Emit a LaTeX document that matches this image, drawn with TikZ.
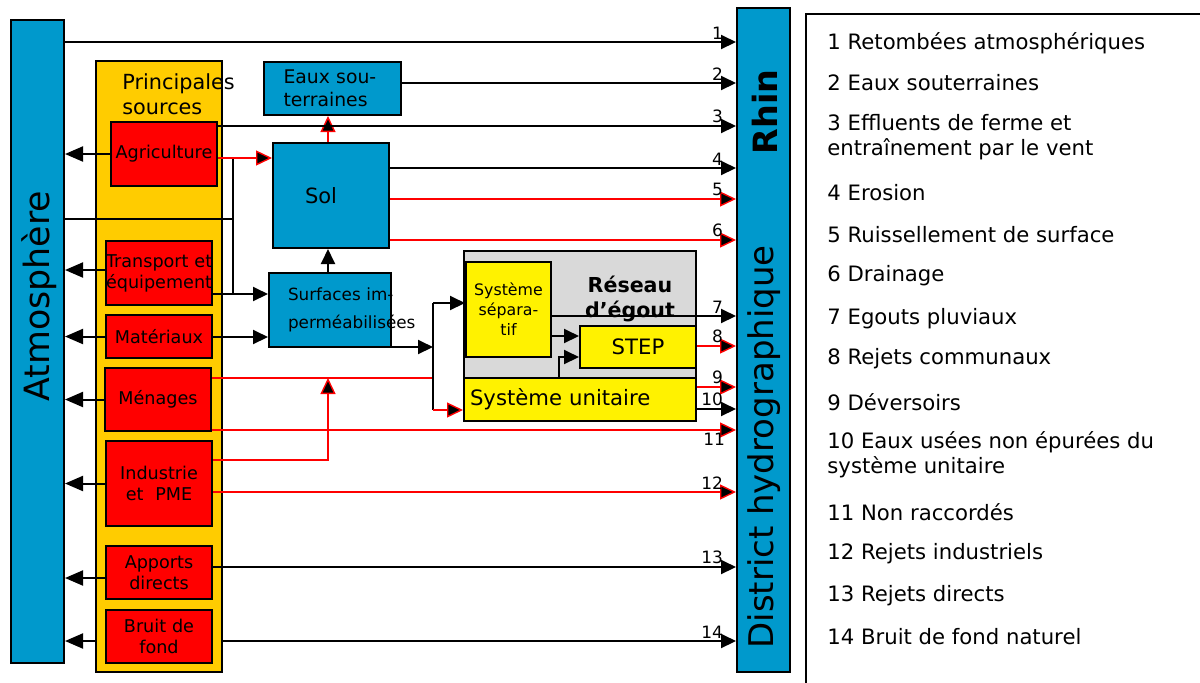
\documentclass[tikz,border=0pt]{standalone}
\usepackage{fontspec}
\setmainfont{DejaVu Sans}
\usetikzlibrary{arrows.meta}

\definecolor{rhinblue}{RGB}{0,153,204}
\definecolor{srcyellow}{RGB}{255,204,0}
\definecolor{egoutgray}{RGB}{217,217,217}

\begin{document}
\begin{tikzpicture}[
x=0.5pt, y=-0.5pt,
box/.style={draw, line width=1pt, inner sep=0pt, align=center},
bluebox/.style={box, fill=rhinblue},
redbox/.style={box, fill=red, minimum width=53pt, text width=53pt,
  font=\fontsize{8.8}{10.5}\selectfont},
yelbox/.style={box, fill=yellow},
flow/.style={line width=1pt, -{Triangle[length=7.5pt,width=7pt]}},
backflow/.style={line width=1pt, -{Triangle[length=9pt,width=7.5pt]}},
redflow/.style={flow, draw=red, -{Triangle[length=8pt,width=7.5pt,fill=black,line width=0.7pt]}},
wire/.style={line width=1pt},
redwire/.style={wire, draw=red},
num/.style={font=\fontsize{8.5}{8.5}\selectfont, inner sep=1pt},
legtxt/.style={anchor=west, align=left, inner sep=0pt,
  font=\fontsize{10.6}{12.5}\selectfont}
]

\useasboundingbox (0,0) rectangle (1200,682);
\clip (0,0) rectangle (1200,682);

% Atmosphere
\node[bluebox, minimum width=26.5pt, minimum height=321.5pt] (atmo) at (37.5,341.5) {};
\node[rotate=90, font=\fontsize{17.4}{17.4}\selectfont] (atmotxt) at (39,296) {Atmosphère};

% main sources
\node[box, fill=srcyellow, minimum width=63pt, minimum height=305.5pt] (srcs) at (159,366.5) {};
\node[anchor=west, align=left, inner sep=0pt, font=\fontsize{10.4}{12.5}\selectfont]
  (srcstxt) at (122,94) {Principales\\sources};

\node[redbox, minimum height=32pt] (agri) at (164,154) {Agriculture};
\node[redbox, minimum height=32pt] (trans) at (159,273) {\mbox{Transport et}\\\mbox{équipement}};
\node[redbox, minimum height=21.5pt] (mat) at (159,336.5) {Matériaux};
\node[redbox, minimum height=31.5pt] (men) at (158,399.5) {Ménages};
\node[redbox, minimum height=42.5pt] (indus) at (159,483.5) {Industrie\\et~~PME};
\node[redbox, minimum height=26.5pt] (appo) at (159,572.5) {Apports\\directs};
\node[redbox, minimum height=26.5pt] (bruit) at (159,636) {\mbox{Bruit de}\\fond};

% soil and groundwater
\node[bluebox, minimum width=68.5pt, minimum height=26.5pt, text width=49pt,
  inner xsep=9.75pt, align=left, font=\fontsize{9.4}{11.5}\selectfont]
  (eaux) at (332.5,88.5) {\mbox{Eaux sou-}\\terraines};
\node[bluebox, minimum width=58pt, minimum height=52.5pt, text width=26pt,
  inner xsep=16pt, align=left, font=\fontsize{10.5}{10.5}\selectfont] (sol) at (331,195.5) {Sol};
\node[bluebox, minimum width=61pt, minimum height=37pt, text width=42pt,
  inner xsep=9.5pt, align=left, font=\fontsize{8.4}{14}\selectfont]
  (surf) at (330,310) {\mbox{Surfaces im-}\\\mbox{perméabilisées}};

% sewer network
\node[box, fill=egoutgray, minimum width=116pt, minimum height=85pt] (egout) at (580,336) {};
\node[font=\bfseries\fontsize{10.3}{12.5}\selectfont, align=center, inner sep=0pt]
  (egouttxt) at (630,299) {Réseau\\d’égout};
\node[yelbox, minimum width=42.5pt, minimum height=47.5pt, text width=42.5pt,
  font=\fontsize{7.9}{10}\selectfont] (sep) at (508.5,309.5) {Système\\sépara-\\tif};
\node[yelbox, minimum width=58pt, minimum height=21pt,
  font=\fontsize{10.6}{10.6}\selectfont] (step) at (638,347) {STEP};
\node[yelbox, minimum width=116pt, minimum height=21.5pt, text width=110pt,
  inner xsep=3pt, align=left, font=\fontsize{10.6}{10.6}\selectfont]
  (unit) at (580,399.5) {Système unitaire};

% river
\node[bluebox, minimum width=26.5pt, minimum height=332pt] (fluss) at (763.5,340) {};
\node[rotate=90, font=\bfseries\fontsize{16.7}{16.7}\selectfont] (rhintxt) at (765,112) {Rhin};
\node[rotate=90, font=\fontsize{17}{17}\selectfont] (disttxt) at (764,447) {District hydrographique};

% legend
\node[draw, line width=1pt, minimum width=210pt, minimum height=350pt, anchor=north west]
  (legend) at (805,13) {};
\foreach \yy/\txt [count=\i] in {43/{1 Retombées atmosphériques},
  83/{2 Eaux souterraines},
  137.5/{3 Effluents de ferme et\\entraînement par le vent},
  193/{4 Erosion}, 235/{5 Ruissellement de surface}, 276/{6 Drainage},
  319/{7 Egouts pluviaux}, 359/{8 Rejets communaux}, 402/{9 Déversoirs},
  454.5/{10 Eaux usées non épurées du\\système unitaire},
  512/{11 Non raccordés}, 554/{12 Rejets industriels},
  596/{13 Rejets directs}, 637/{14 Bruit de fond naturel}}
  \node[legtxt] (leg\i) at (827,\yy) {\txt};

\coordinate (knota) at (233,158);
\coordinate (knotb) at (233,294);
\coordinate (menline) at (328,378);
\coordinate (jn) at (433,347);

% emissions to the atmosphere
\draw[backflow] (agri.west) -- (atmo.east |- agri.west);
\draw[backflow] (trans.west |- 0,270) -- (atmo.east |- 0,270);
\draw[backflow] (mat.west) -- (atmo.east |- mat.west);
\draw[backflow] (men.west) -- (atmo.east |- men.west);
\draw[backflow] (indus.west) -- (atmo.east |- indus.west);
\draw[backflow] (appo.west |- 0,578) -- (atmo.east |- 0,578);
\draw[backflow] (srcs.west |- 0,641) -- (atmo.east |- 0,641);

% internal paths
\draw[wire] (atmo.east |- 0,219) -- (knota |- 0,219);
\draw[wire] (knota) -- (knotb);
\draw[redflow] (agri.east |- knota) -- (sol.west |- knota);
\draw[flow] (trans.east |- knotb) -- (surf.west |- knotb);
\draw[flow] (mat.east |- 0,337) -- (surf.west |- 0,337);
\draw[flow] (surf.north -| menline) -- (sol.south -| menline);
\draw[redflow] (sol.north -| menline) -- (eaux.south -| menline);
\draw[redwire] (men.east |- menline) -- (jn |- menline);
\draw[redflow] (indus.east |- 0,460) -| (menline);
\draw[flow] (surf.east |- jn) -- (jn);
\draw[wire] (jn |- 0,303) -- (jn |- 0,410);
\draw[flow] (jn |- 0,303) -- (sep.west |- 0,303);
\draw[redflow] (jn |- 0,410) -- (unit.west |- 0,410);
\draw[flow] (sep.east |- 0,336) -- (step.west |- 0,336);
\draw[flow] (unit.north -| 559,0) |- (step.west |- 0,357);

% flows into the river
\draw[flow] (atmo.east |- 0,42) -- node[num, pos=1, anchor=south east, xshift=-5pt] (n1) {1} (fluss.west |- 0,42);
\draw[flow] (eaux.east |- 0,83) -- node[num, pos=1, anchor=south east, xshift=-5pt] (n2) {2} (fluss.west |- 0,83);
\draw[flow] (agri.east |- 0,126) -- node[num, pos=1, anchor=south east, xshift=-5pt] (n3) {3} (fluss.west |- 0,126);
\draw[flow] (sol.east |- 0,168) -- node[num, pos=1, anchor=south east, xshift=-5pt] (n4) {4} (fluss.west |- 0,168);
\draw[redflow] (sol.east |- 0,199) -- node[num, pos=1, anchor=south east, xshift=-5pt] (n5) {5} (fluss.west |- 0,199);
\draw[redflow] (sol.east |- 0,240) -- node[num, pos=1, anchor=south east, xshift=-5pt] (n6) {6} (fluss.west |- 0,240);
\draw[flow] (sep.east |- 0,316) -- node[num, pos=1, anchor=south east, xshift=-5pt] (n7) {7} (fluss.west |- 0,316);
\draw[redflow] (step.east |- 0,346) -- node[num, pos=1, anchor=south east, xshift=-5pt] (n8) {8} (fluss.west |- 0,346);
\draw[redflow] (unit.east |- 0,387) -- node[num, pos=1, anchor=south east, xshift=-5pt] (n9) {9} (fluss.west |- 0,387);
\draw[flow] (unit.east |- 0,409) -- node[num, pos=1, anchor=south east, xshift=-5pt] (n10) {10} (fluss.west |- 0,409);
\draw[redflow] (men.east |- 0,430) -- node[num, pos=1, anchor=north east, xshift=-4pt] (n11) {11} (fluss.west |- 0,430);
\draw[redflow] (indus.east |- 0,492) -- node[num, pos=1, anchor=south east, xshift=-5pt] (n12) {12} (fluss.west |- 0,492);
\draw[flow] (appo.east |- 0,567) -- node[num, pos=1, anchor=south east, xshift=-5pt] (n13) {13} (fluss.west |- 0,567);
\draw[flow] (srcs.east |- 0,641) -- node[num, pos=1, anchor=south east, xshift=-5pt] (n14) {14} (fluss.west |- 0,641);

\end{tikzpicture}
\end{document}
